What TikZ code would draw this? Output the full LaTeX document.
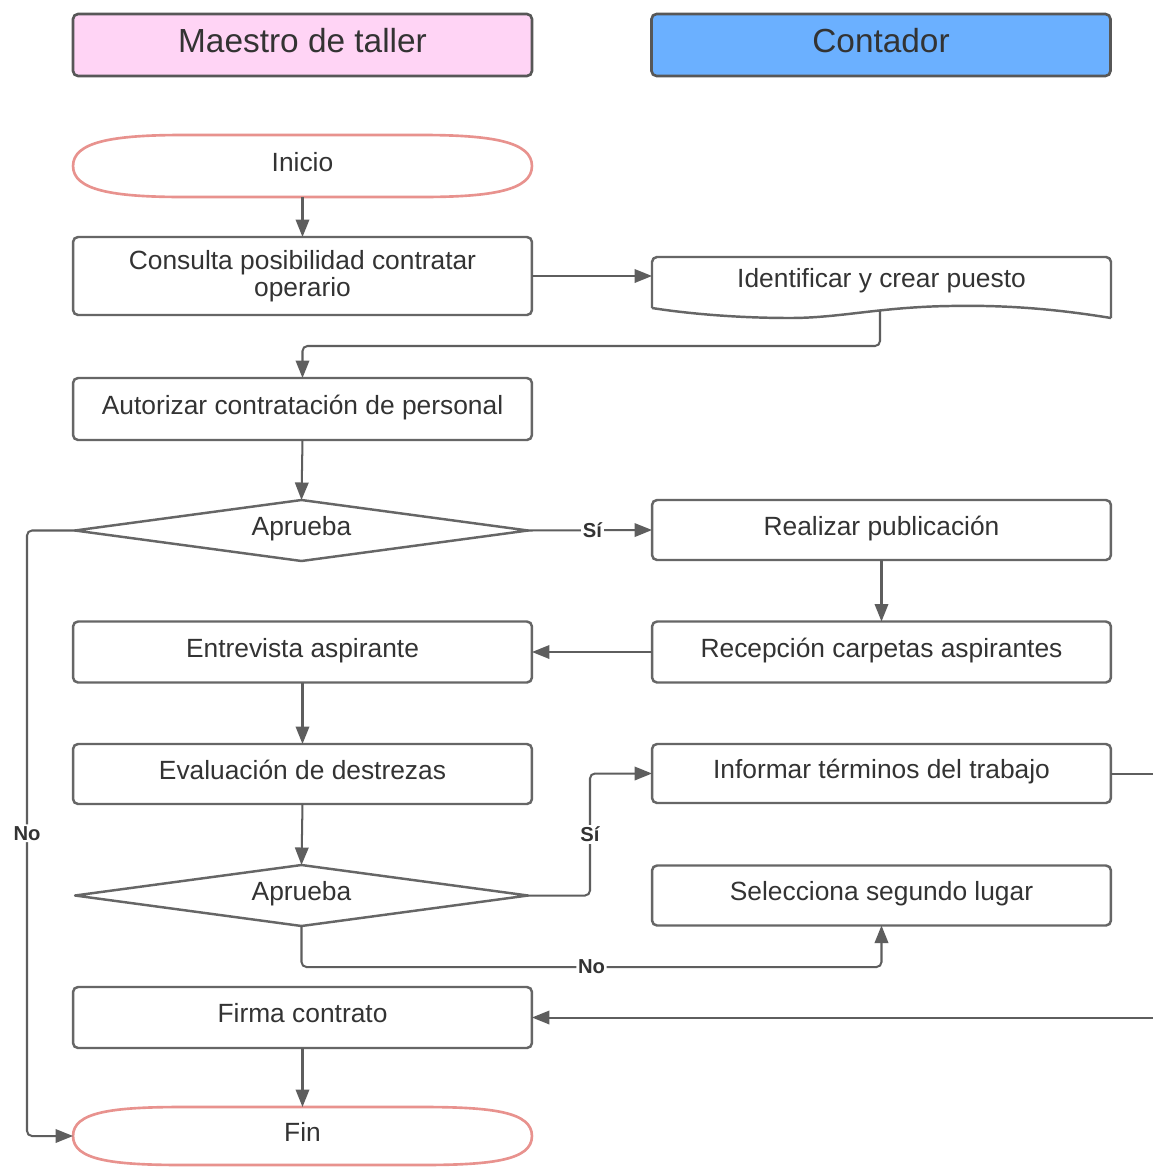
\documentclass[tikz,border=0pt]{standalone}
\usepackage{fontspec}
\setmainfont{Liberation Sans}
\usetikzlibrary{arrows.meta,calc}
\definecolor{linegray}{HTML}{5E5E5E}
\definecolor{boxgray}{HTML}{666666}
\definecolor{txtgray}{HTML}{333333}
\definecolor{termred}{HTML}{E8928E}
\definecolor{hpink}{HTML}{FFD4F5}
\definecolor{hblue}{HTML}{6BB0FF}
\newcommand\drawterm[1]{%
  \draw[termline] (#1.west)
    .. controls ($(#1.west)+(0,-24)$) and ($(#1.north west)+(39,0)$) .. ($(#1.north west)+(110,0)$)
    -- ($(#1.north east)+(-110,0)$)
    .. controls ($(#1.north east)+(-39,0)$) and ($(#1.east)+(0,-24)$) .. (#1.east)
    .. controls ($(#1.east)+(0,24)$) and ($(#1.south east)+(-39,0)$) .. ($(#1.south east)+(-110,0)$)
    -- ($(#1.south west)+(110,0)$)
    .. controls ($(#1.south west)+(39,0)$) and ($(#1.west)+(0,24)$) .. (#1.west) -- cycle;}
\newcommand\drawdecision[1]{%
  \draw[shapeline] (#1.north) -- (#1.east) -- (#1.south) -- (#1.west) -- cycle;}
\begin{document}
\begin{tikzpicture}[x=0.02cm,y=-0.02cm,
  base/.style={inner sep=0pt,outer sep=0pt,text=txtgray,font=\fontsize{15}{15.5}\selectfont,align=center},
  oneline/.style={text height=10pt,text depth=3.8pt},
  procbox/.style={base,draw=boxgray,line width=1.4pt,rounded corners=0.1cm,minimum width=9.18cm,fill=white},
  plain/.style={base,minimum width=9.18cm},
  header/.style={procbox,draw=boxgray!85!black,line width=1.5pt,font=\fontsize{19}{20}\selectfont,minimum height=1.24cm,text height=13pt,text depth=4.5pt},
  termline/.style={draw=termred,line width=1.5pt},
  shapeline/.style={draw=boxgray,line width=1.4pt,line join=round},
  conn/.style={draw=linegray,line width=1.15pt,-{Triangle[length=3.5mm,width=2.7mm]}},
  lbl/.style={fill=white,inner sep=1pt,font=\bfseries\fontsize{11.5}{12}\selectfont,text=txtgray}
]
\useasboundingbox[fill=white] (0,0) rectangle (1153,1167);

% headers
\node[header,fill=hpink] (hM) at (302.5,45) {Maestro de taller};
\node[header,fill=hblue] (hC) at (881,45) {Contador};

% left column
\node[plain,oneline,minimum height=1.24cm] (ini) at (302.5,166) {Inicio};
\node[procbox,minimum height=1.56cm] (cons) at (302.5,276) {Consulta posibilidad contratar\\operario};
\node[procbox,oneline,minimum height=1.24cm] (aut) at (302.5,409) {Autorizar contratación de personal};
\node[plain,oneline,minimum width=9.06cm,minimum height=1.22cm] (ap1) at (301.5,530.5) {Aprueba};
\node[procbox,oneline,minimum height=1.22cm] (ent) at (302.5,652) {Entrevista aspirante};
\node[procbox,oneline,minimum height=1.2cm] (eva) at (302.5,774) {Evaluación de destrezas};
\node[plain,oneline,minimum width=9.06cm,minimum height=1.22cm] (ap2) at (301.5,895.5) {Aprueba};
\node[procbox,oneline,minimum height=1.22cm] (fir) at (302.5,1017.5) {Firma contrato};
\node[plain,oneline,minimum height=1.16cm] (fin) at (302.5,1136) {Fin};

% right column
\node[plain,oneline,minimum height=1.0cm] (ident) at (881.5,282) {Identificar y crear puesto};
\node[procbox,oneline,minimum height=1.2cm] (real) at (881.5,530) {Realizar publicación};
\node[procbox,oneline,minimum height=1.22cm] (rec) at (881.5,652) {Recepción carpetas aspirantes};
\node[procbox,oneline,minimum height=1.18cm] (inf) at (881.5,773.5) {Informar términos del trabajo};
\node[procbox,oneline,minimum height=1.2cm] (sel) at (881.5,895.5) {Selecciona segundo lugar};

% special outlines
\drawterm{ini}
\drawterm{fin}
\drawdecision{ap1}
\drawdecision{ap2}
\draw[shapeline,rounded corners=0.1cm] (652,308) -- (652,257) -- (1111,257) -- (1111,318);
\draw[shapeline] (1111,318) .. controls (1050,308) and (1000,305) .. (950,306)
  .. controls (880,307) and (840,318) .. (790,318)
  .. controls (740,318) and (690,314) .. (652,308);

% connectors
\coordinate (identb) at (880,311);
\coordinate (offr) at (1180,773.5);
\draw[conn] (ini.south) -- (cons.north);
\draw[conn] (cons.east) -- (cons.east -| ident.west);
\draw[conn,rounded corners=0.1cm] (identb) -- (880,346) -| (aut.north);
\draw[conn] (aut.south) -- (ap1.north);
\draw[conn] (ap1.east) -- node[lbl,pos=0.52]{Sí} (real.west);
\draw[conn,rounded corners=0.1cm] (ap1.west) -- (27,530.5) -- node[lbl]{No} (27,1136) -- (fin.west);
\draw[conn] (real.south) -- (rec.north);
\draw[conn] (rec.west) -- (ent.east);
\draw[conn] (ent.south) -- (eva.north);
\draw[conn] (eva.south) -- (ap2.north);
\draw[conn,rounded corners=0.1cm] (ap2.east) -- (590,895.5) -- node[lbl]{Sí} (590,773.5) -- (inf.west);
\draw[conn,rounded corners=0.1cm] (ap2.south) -- (301.5,967) -- node[lbl]{No} (881.5,967) -- (sel.south);
\draw[conn] (inf.east) -- (offr) |- (fir.east);
\draw[conn] (fir.south) -- (fin.north);
\end{tikzpicture}
\end{document}
